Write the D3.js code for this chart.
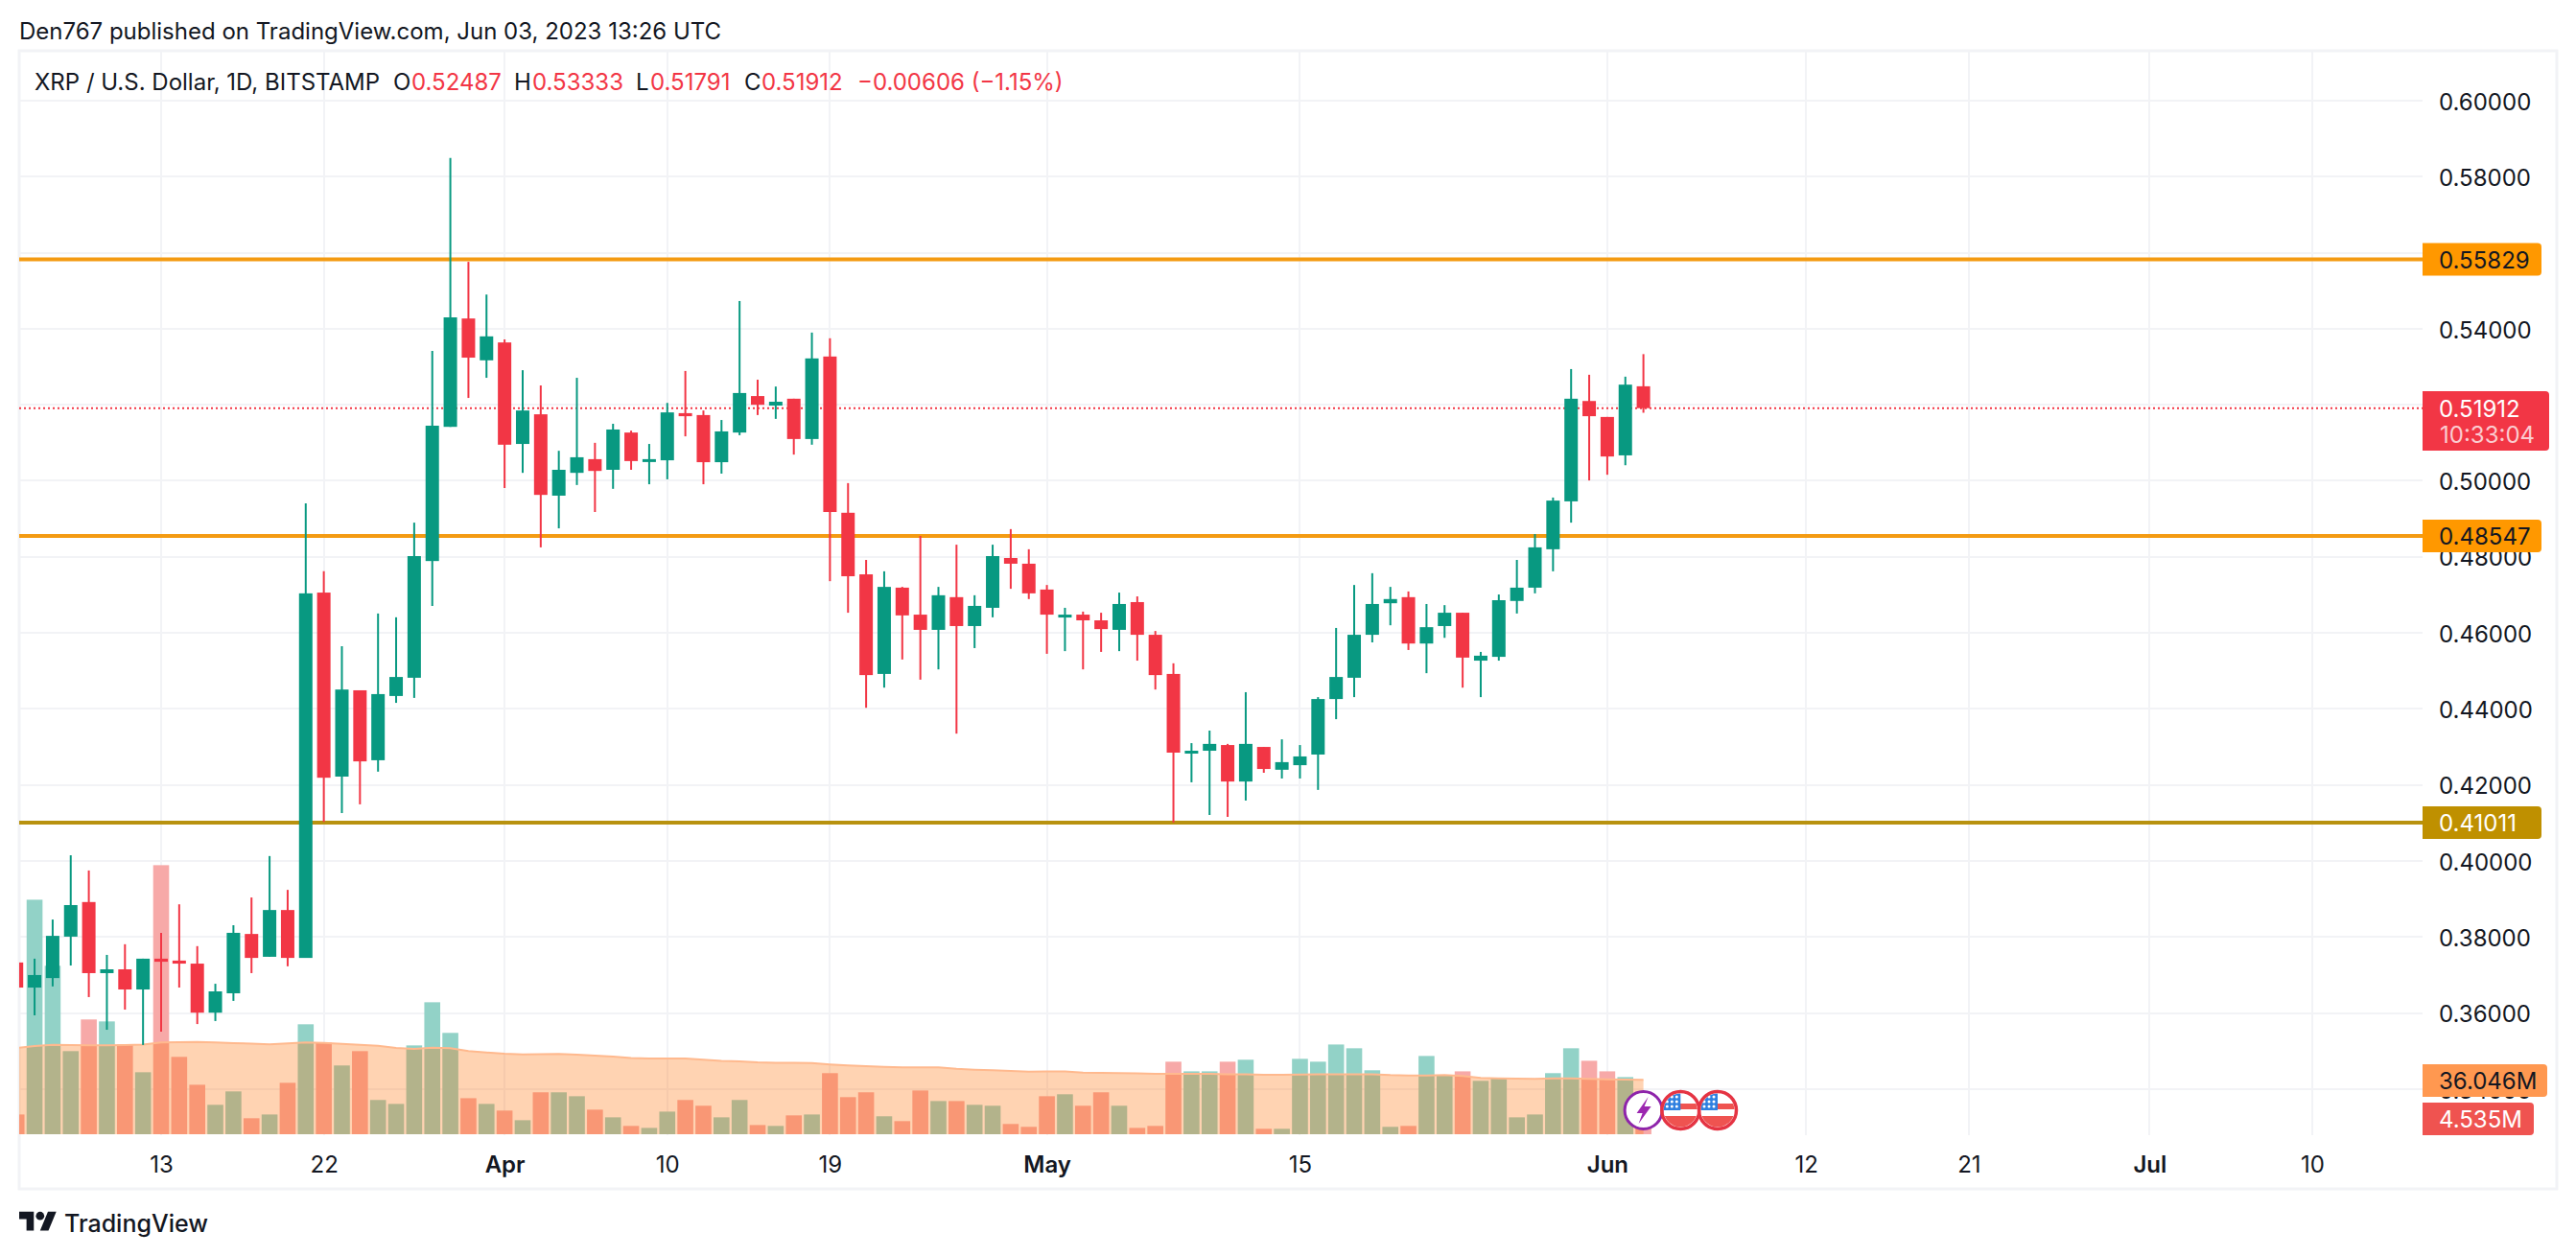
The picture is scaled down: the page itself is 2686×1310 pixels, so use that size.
<!DOCTYPE html>
<html>
<head>
<meta charset="utf-8">
<title>XRP / U.S. Dollar</title>
<script src="https://cdnjs.cloudflare.com/ajax/libs/d3/7.8.5/d3.min.js"></script>
<style>
    html, body { margin: 0; padding: 0; background: #fff; }
    svg { display: block; }
    text { font-family: "Inter", "Noto Sans", sans-serif; fill: #131722; }
</style>
</head>
<body>
<div id="chart"></div>
<script>
// ─── data ────────────────────────────────────────────────────────────────────

const opens = [
    .3733,.3667,.3692,.3801,.3892,.3705,.3715,.3662,.3743,.3738,
    .3730,.3601,.3652,.3808,.3748,.3871,.3745,.4706,.4222,.4449,
    .4265,.4434,.4482,.4789,.5142,.5427,.5317,.5364,.5097,.5175,
    .4961,.5021,.5057,.5029,.5127,.5052,.5054,.5178,.5173,.5049,
    .5127,.5223,.5198,.5216,.5110,.5327,.4916,.4754,.4492,.4719,
    .4648,.4608,.4694,.4618,.4666,.4797,.4782,.4714,.4643,.4648,
    .4633,.4608,.4681,.4595,.4492,.4285,.4290,.4305,.4209,.4300,
    .4240,.4252,.4280,.4426,.4482,.4595,.4678,.4694,.4572,.4618,
    .4653,.4527,.4537,.4684,.4719,.4820,.4946,.5210,.5168,.5067,.52487
];
const highs = [
    .3733,.3743,.3846,.4015,.3975,.3753,.3781,.3743,.3811,.3886,
    .3776,.3677,.3831,.3904,.4013,.3924,.4941,.4762,.4565,.4449,
    .4651,.4641,.4890,.5342,.5849,.5576,.5490,.5372,.5291,.5251,
    .5079,.5271,.5100,.5150,.5132,.5097,.5205,.5289,.5185,.5160,
    .5473,.5266,.5248,.5216,.5390,.5375,.4994,.4792,.4762,.4721,
    .4855,.4721,.4832,.4699,.4832,.4873,.4820,.4726,.4666,.4656,
    .4653,.4706,.4696,.4605,.4520,.4310,.4343,.4308,.4444,.4300,
    .4320,.4305,.4431,.4613,.4726,.4757,.4721,.4709,.4676,.4673,
    .4653,.4550,.4701,.4792,.4860,.4956,.5294,.5279,.5168,.5274,.53333
];
const lows = [
    .3667,.3594,.3670,.3725,.3642,.3556,.3609,.3516,.3551,.3667,
    .3571,.3579,.3632,.3705,.3748,.3723,.3745,.4103,.4126,.4149,
    .4235,.4416,.4429,.4671,.5142,.5218,.5271,.4981,.5021,.4825,
    .4875,.4989,.4918,.4979,.5029,.4991,.5004,.5117,.4991,.5019,
    .5120,.5173,.5163,.5069,.5095,.4736,.4653,.4403,.4456,.4530,
    .4477,.4504,.4335,.4560,.4641,.4716,.4689,.4545,.4552,.4504,
    .4550,.4552,.4527,.4451,.4101,.4207,.4121,.4116,.4159,.4232,
    .4217,.4217,.4187,.4373,.4431,.4575,.4620,.4555,.4494,.4587,
    .4456,.4431,.4527,.4651,.4704,.4762,.4890,.5001,.5016,.5041,.51791
];
const closes = [
    .3667,.3700,.3803,.3884,.3705,.3715,.3662,.3743,.3735,.3730,
    .3601,.3657,.3811,.3745,.3871,.3745,.4704,.4219,.4451,.4262,
    .4439,.4484,.4802,.5145,.5430,.5324,.5380,.5095,.5185,.4963,
    .5029,.5062,.5026,.5135,.5052,.5057,.5180,.5170,.5049,.5130,
    .5231,.5200,.5208,.5110,.5322,.4918,.4749,.4489,.4721,.4646,
    .4608,.4699,.4618,.4671,.4802,.4782,.4704,.4648,.4648,.4633,
    .4610,.4676,.4595,.4489,.4285,.4290,.4308,.4209,.4308,.4242,
    .4260,.4275,.4426,.4484,.4595,.4676,.4689,.4572,.4615,.4653,
    .4535,.4540,.4686,.4719,.4825,.4948,.5216,.5170,.5064,.5253,.51912
];
// volume in millions
const volumes = [
    13.1,155.5,111.7,55.1,76.1,74.8,59.5,41.1,178.4,51.3,
    32.8,19.5,28.4,10.6,13.1,34.1,72.9,60.8,45.6,55.1,
    22.7,20.1,58.9,87.5,67.2,23.9,20.1,15.7,9.3,27.8,
    27.8,25.2,16.3,11.2,5.5,4.2,15.0,22.7,18.9,11.2,
    22.7,6.1,5.5,12.5,13.1,40.5,24.6,27.8,11.9,8.7,
    29.0,22.0,22.0,19.5,18.9,6.8,4.9,25.2,26.5,18.9,
    27.8,18.9,4.2,5.5,48.1,41.7,41.7,48.1,49.4,3.6,
    3.6,50.0,48.1,59.5,57.0,42.4,4.9,5.5,51.9,39.2,
    41.7,35.4,37.3,11.2,13.1,40.5,57.0,48.7,41.7,37.9,4.535
];
const volumeMa = [
    57.2,58.5,59.3,59.1,58.9,58.9,59.1,59.4,60.8,61.1,
    61.2,60.9,60.4,60.1,59.6,60.2,60.8,60.6,59.9,59.3,
    58.7,57.2,56.6,57.4,57.0,55.1,54.2,53.4,53.0,53.1,
    53.2,52.8,52.2,51.5,50.6,50.2,50.2,50.2,49.5,48.7,
    48.3,47.7,47.4,47.3,47.2,46.3,45.6,45.1,44.7,44.3,
    44.3,44.3,43.4,42.8,42.4,41.9,41.5,41.7,41.7,40.9,
    40.7,40.5,40.3,40.0,40.0,40.0,40.0,39.8,39.8,39.4,
    39.4,39.6,39.8,39.8,39.8,39.8,39.2,39.0,39.0,39.2,
    38.6,37.3,37.1,36.9,36.7,37.1,37.1,36.7,36.4,36.2,36.046
];
const firstDay = Date.UTC(2023, 2, 5);
const days = volumes.map((v, i) => new Date(firstDay + i * 864e5));

const priceTicks = [0.60, 0.58, 0.54, 0.50, 0.48, 0.46, 0.44, 0.42, 0.40, 0.38, 0.36, 0.34];
const gridPrices = [0.60, 0.58, 0.56, 0.54, 0.52, 0.50, 0.48, 0.46, 0.44, 0.42, 0.40, 0.38, 0.36, 0.34];
const levels = [0.55829, 0.48547, 0.41011];
const lastPrice = 0.51912;

const timeTicks = [[2,13],[2,22],[3,1],[3,10],[3,19],[4,1],[4,15],[5,1],[5,12],[5,21],[6,1],[6,10]]
    .map(d => new Date(Date.UTC(2023, d[0], d[1])));
const timeLabels = ["13", "22", "Apr", "10", "19", "May", "15", "Jun", "12", "21", "Jul", "10"];
const boldLabels = ["Apr", "May", "Jun", "Jul"];

const legendParts = [
    ["XRP / U.S. Dollar, 1D, BITSTAMP", 36, "#131722"],
    ["O", 410, "#131722"], ["0.52487", 429, "#f23645"],
    ["H", 536, "#131722"], ["0.53333", 555, "#f23645"],
    ["L", 663, "#131722"], ["0.51791", 678, "#f23645"],
    ["C", 776, "#131722"], ["0.51912", 794, "#f23645"],
    ["\u22120.00606 (\u22121.15%)", 894, "#f23645"]
];

// ─── layout, colors ──────────────────────────────────────────────────────────

const width = 2686;
const height = 1310;
const plotLeft = 20, plotRight = 2526, frameRight = 2666, plotTop = 53, plotBottom = 1184, frameBottom = 1240;

const COLOR_UP = "#089981";
const COLOR_DOWN = "#f23645";
const COLOR_GRID = "#f2f3f6";
const COLOR_LEVEL = "#f49b12";
const COLOR_LEVEL_LOW = "#b8920f";

const svg = d3.select("#chart").append("svg")
    .attr("width", width)
    .attr("height", height)
    .attr("viewBox", `0 0 ${width} ${height}`);

svg.append("rect").attr("width", width).attr("height", height).attr("fill", "#fff");

svg.append("defs").append("clipPath").attr("id", "plot-clip")
    .append("rect")
    .attr("x", plotLeft).attr("y", plotTop)
    .attr("width", plotRight - plotLeft).attr("height", plotBottom - plotTop);

const x = d3.scaleUtc()
    .domain([new Date(Date.UTC(2023, 2, 13)), new Date(Date.UTC(2023, 6, 10))])
    .range([168, 2411]);
const y = d3.scaleLinear().domain([0.36, 0.60]).range([1056.6, 105]);
const yVol = d3.scaleLinear().domain([0, 100]).range([1183, 1025.7]);

const FONT = 24;
const candleW = 14, barW = 16.6;

// ─── frame and grid ──────────────────────────────────────────────────────────

const grid = svg.append("g").attr("stroke", COLOR_GRID).attr("stroke-width", 2);
grid.selectAll(".h").data(gridPrices).join("line")
    .attr("x1", plotLeft).attr("x2", plotRight)
    .attr("y1", d => Math.round(y(d))).attr("y2", d => Math.round(y(d)));
grid.selectAll(".v").data(timeTicks).join("line")
    .attr("x1", d => Math.round(x(d))).attr("x2", d => Math.round(x(d)))
    .attr("y1", plotTop).attr("y2", plotBottom);

svg.append("path")
    .attr("d", `M${plotLeft},${plotTop}H${frameRight}V${frameBottom}H${plotLeft}Z`)
    .attr("fill", "none").attr("stroke", COLOR_GRID).attr("stroke-width", 3);

// ─── volume pane ─────────────────────────────────────────────────────────────

const plot = svg.append("g").attr("clip-path", "url(#plot-clip)");

plot.append("g").selectAll("rect").data(days).join("rect")
    .attr("x", d => x(d) - barW / 2)
    .attr("width", barW)
    .attr("y", (d, i) => yVol(volumes[i]))
    .attr("height", (d, i) => yVol(0) - yVol(volumes[i]))
    .attr("fill", (d, i) => closes[i] < opens[i] ? "#f7a9a8" : "#92d2c7");

const maArea = d3.area()
    .x(d => x(d))
    .y0(yVol(0))
    .y1((d, i) => yVol(volumeMa[i]));
const maLine = d3.line().x(d => x(d)).y((d, i) => yVol(volumeMa[i]));

plot.append("path").datum(days).attr("d", maArea).attr("fill", "#ff6d00").attr("fill-opacity", 0.3);
plot.append("path").datum(days).attr("d", maLine)
    .attr("fill", "none").attr("stroke", "#ffb98e").attr("stroke-width", 2);

// ─── levels, last price line, candles ────────────────────────────────────────

plot.append("g").selectAll("line").data(levels).join("line")
    .attr("x1", plotLeft).attr("x2", plotRight)
    .attr("y1", d => y(d)).attr("y2", d => y(d))
    .attr("stroke", (d, i) => i === 2 ? COLOR_LEVEL_LOW : COLOR_LEVEL)
    .attr("stroke-width", 4);

plot.append("line")
    .attr("x1", plotLeft).attr("x2", plotRight)
    .attr("y1", y(lastPrice)).attr("y2", y(lastPrice))
    .attr("stroke", COLOR_DOWN).attr("stroke-width", 2).attr("stroke-dasharray", "2 3");

const candles = plot.append("g").selectAll("g").data(days).join("g")
    .attr("fill", (d, i) => closes[i] < opens[i] ? COLOR_DOWN : COLOR_UP)
    .attr("stroke", (d, i) => closes[i] < opens[i] ? COLOR_DOWN : COLOR_UP);

candles.append("line")
    .attr("x1", d => x(d)).attr("x2", d => x(d))
    .attr("y1", (d, i) => y(highs[i]))
    .attr("y2", (d, i) => y(lows[i]))
    .attr("stroke-width", 2);

candles.append("rect")
    .attr("stroke", "none")
    .attr("x", d => x(d) - candleW / 2)
    .attr("width", candleW)
    .attr("y", (d, i) => y(Math.max(opens[i], closes[i])))
    .attr("height", (d, i) => Math.max(3, y(Math.min(opens[i], closes[i])) - y(Math.max(opens[i], closes[i]))));

// ─── event markers ───────────────────────────────────────────────────────────

function flagMarker(cx, cy, id) {
    const m = svg.append("g").attr("transform", `translate(${cx},${cy})`);
    m.append("clipPath").attr("id", id).append("circle").attr("r", 17.5);
    const f = m.append("g").attr("clip-path", `url(#${id})`);
    f.append("rect").attr("x", -20).attr("y", -20).attr("width", 40).attr("height", 40).attr("fill", "#fff");
    f.append("rect").attr("x", -20).attr("y", -7).attr("width", 40).attr("height", 6).attr("fill", "#ef5350");
    f.append("rect").attr("x", -20).attr("y", 6).attr("width", 40).attr("height", 14).attr("fill", "#ef5350");
    f.append("rect").attr("x", -20).attr("y", -20).attr("width", 20).attr("height", 20).attr("fill", "#2f80e0");
    d3.cross([-14, -9, -4], [-14, -9, -4]).forEach(p => {
        f.append("circle").attr("cx", p[0]).attr("cy", p[1]).attr("r", 1.5).attr("fill", "#fff");
    });
    m.append("circle").attr("r", 19.5).attr("fill", "none").attr("stroke", "#e53443").attr("stroke-width", 3.5);
}

const markerY = 1158;
const boltMarker = svg.append("g").attr("transform", `translate(${x(days[90])},${markerY})`);
boltMarker.append("circle").attr("r", 19.5).attr("fill", "#fff").attr("stroke", "#8e24aa").attr("stroke-width", 3);
boltMarker.append("path").attr("d", "M5,-14L-7,3H-1L-5,14L8,-4H1Z").attr("fill", "#9c27b0");
flagMarker(x(new Date(Date.UTC(2023, 5, 5))) + 1, markerY, "flag-a");
flagMarker(x(new Date(Date.UTC(2023, 5, 7))) + 2, markerY, "flag-b");

// ─── axes ────────────────────────────────────────────────────────────────────

const priceAxis = d3.axisRight(y)
    .tickValues(priceTicks)
    .tickFormat(d3.format(".5f"))
    .tickSize(0).tickPadding(0);
svg.append("g").attr("transform", "translate(2543,0)").call(priceAxis)
    .call(g => g.select(".domain").remove())
    .selectAll("text").attr("font-size", FONT).attr("dy", "0.38em");

const timeAxis = d3.axisBottom(x)
    .tickValues(timeTicks)
    .tickFormat((d, i) => timeLabels[i])
    .tickSize(0).tickPadding(0);
svg.append("g").attr("transform", "translate(0,1214)").call(timeAxis)
    .call(g => g.select(".domain").remove())
    .selectAll("text")
    .attr("y", 0).attr("dy", "0.36em")
    .attr("font-size", FONT)
    .attr("font-weight", (d, i) => boldLabels.includes(timeLabels[i]) ? 600 : 400);

// ─── price labels ────────────────────────────────────────────────────────────

const axisLabels = [
    { text: "0.55829", value: y(levels[0]), w: 124, fill: "#ff9800", color: "#131722" },
    { text: "0.48547", value: y(levels[1]), w: 124, fill: "#ff9800", color: "#131722" },
    { text: "0.41011", value: y(levels[2]), w: 124, fill: "#bf9000", color: "#fff" },
    { text: "36.046M", value: yVol(volumeMa[90]) + 0.7, w: 130, fill: "#ff9850", color: "#131722" },
    { text: "4.535M", value: 1167, w: 116, fill: "#ef5350", color: "#fff" }
];

function labelPath(w, h) {
    const r = 4;
    return `M0,${-h / 2}H${w - r}Q${w},${-h / 2} ${w},${-h / 2 + r}V${h / 2 - r}Q${w},${h / 2} ${w - r},${h / 2}H0Z`;
}

const labelG = svg.append("g").selectAll("g").data(axisLabels).join("g")
    .attr("transform", d => `translate(2526,${d.value})`);
labelG.append("path").attr("d", d => labelPath(d.w, 34)).attr("fill", d => d.fill);
labelG.append("text").attr("x", 17).attr("dy", "0.38em").attr("font-size", FONT)
    .style("fill", d => d.color).text(d => d.text);

const lastLabel = svg.append("g").attr("transform", "translate(2526,439)");
lastLabel.append("path").attr("d", labelPath(132, 62)).attr("fill", COLOR_DOWN);
lastLabel.append("text").attr("x", 17).attr("y", y(lastPrice) - 439).attr("dy", "0.38em")
    .attr("font-size", FONT).style("fill", "#fff").text(d3.format(".5f")(lastPrice));
lastLabel.append("text").attr("x", 18).attr("y", 14).attr("dy", "0.38em")
    .attr("font-size", FONT).style("fill", "#fff").style("fill-opacity", 0.75).text("10:33:04");

// ─── header, legend, logo ────────────────────────────────────────────────────

svg.append("text").attr("x", 20).attr("y", 32).attr("dy", "0.36em").attr("font-size", FONT)
    .text("Den767 published on TradingView.com, Jun 03, 2023 13:26 UTC");

svg.append("g").selectAll("text").data(legendParts).join("text")
    .attr("x", d => d[1]).attr("y", 85).attr("dy", "0.36em")
    .attr("font-size", FONT)
    .style("fill", d => d[2])
    .text(d => d[0]);

const logo = svg.append("g").attr("transform", "translate(20,1259.5) scale(1.09)").attr("fill", "#131722");
logo.append("path").attr("d", "M14 22H7V11H0V4h14v18zM28 22h-8l7.5-18h8L28 22z");
logo.append("circle").attr("cx", 20).attr("cy", 8).attr("r", 4);
svg.append("text").attr("x", 67).attr("y", 1276).attr("dy", "0.36em").attr("font-size", 25).attr("font-weight", 500)
    .text("TradingView");
</script>
</body>
</html>
